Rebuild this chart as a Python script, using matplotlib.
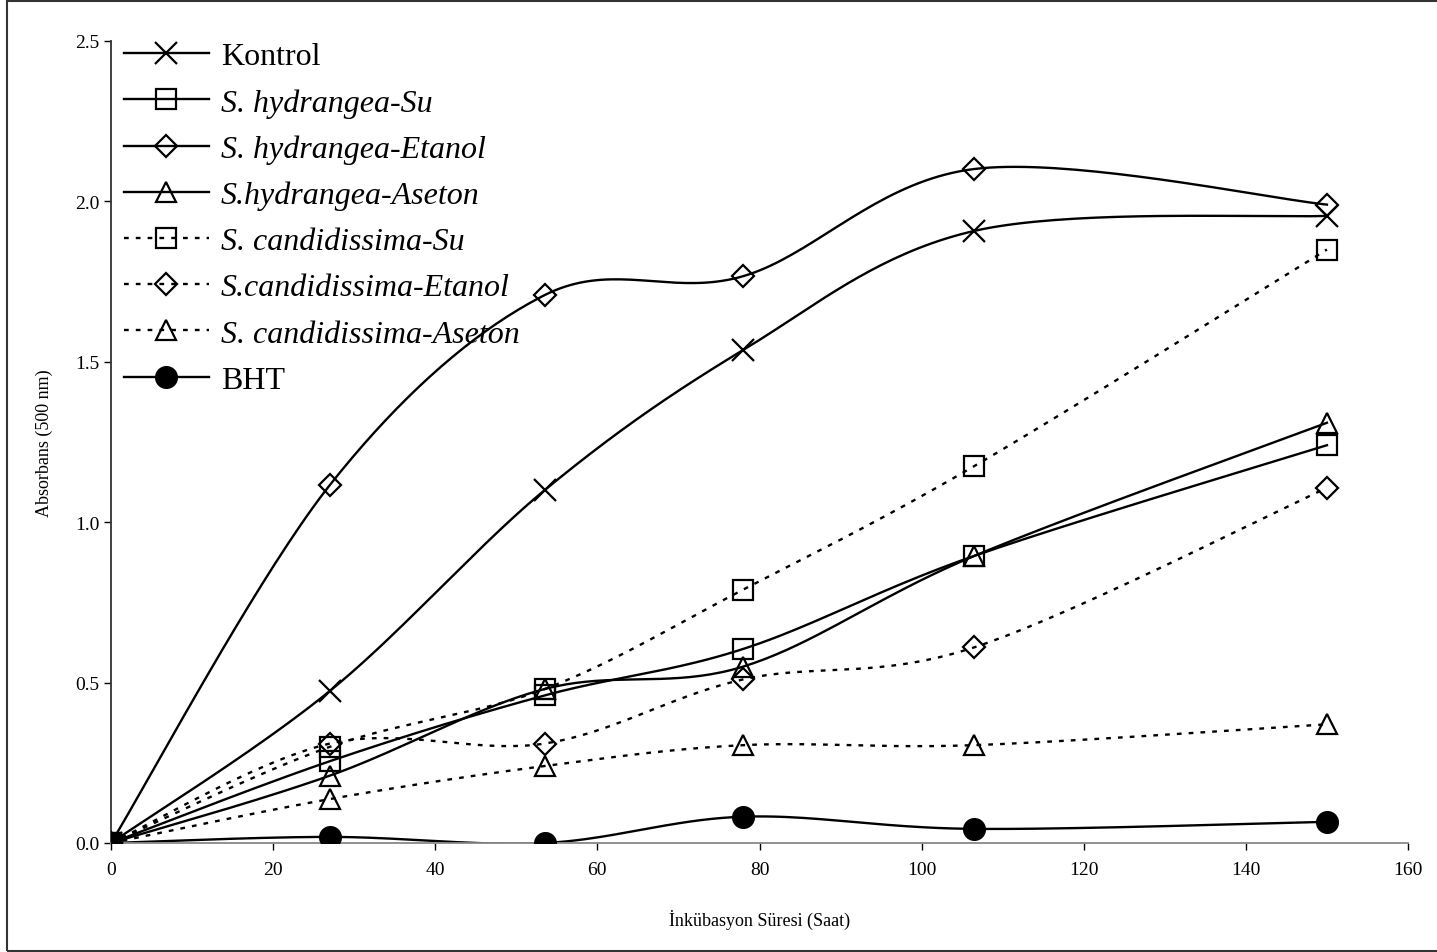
import numpy as np
import matplotlib
matplotlib.use("Agg")
import matplotlib.pyplot as plt
from matplotlib.lines import Line2D
from matplotlib.patches import Rectangle

# incubation time (hours)
saat = [0, 27, 53.5, 78, 106.5, 150]

kontrol = [0.0, 0.474, 1.100, 1.537, 1.908, 1.955]
hyd_su = [0.0, 0.255, 0.46, 0.605, 0.895, 1.24]
hyd_etanol = [0.0, 1.116, 1.708, 1.767, 2.101, 1.990]
hyd_aseton = [0.0, 0.21, 0.48, 0.55, 0.895, 1.31]
can_su = [0.0, 0.30, 0.48, 0.79, 1.175, 1.85]
can_etanol = [0.0, 0.31, 0.31, 0.51, 0.61, 1.107]
can_aseton = [0.0, 0.137, 0.24, 0.305, 0.305, 0.37]
bht = [0.0, 0.019, 0.0, 0.082, 0.044, 0.066]

labels = ["Kontrol", "S. hydrangea-Su", "S. hydrangea-Etanol", "S.hydrangea-Aseton",
          "S. candidissima-Su", "S.candidissima-Etanol", "S. candidissima-Aseton", "BHT"]
series = [kontrol, hyd_su, hyd_etanol, hyd_aseton, can_su, can_etanol, can_aseton, bht]
markers = ["x", "s", "D", "^", "s", "D", "^", "o"]
dotted = [False, False, False, False, True, True, True, False]
italic = [False, True, True, True, True, True, True, False]


def smooth(x, y, n=40):
  # excel-like smoothed line (catmull-rom bezier)
  p = np.column_stack([x, y]).astype(float)
  out = []
  for i in range(len(p) - 1):
    p0 = p[i - 1] if i > 0 else p[i]
    p1 = p[i]
    p2 = p[i + 1]
    p3 = p[i + 2] if i + 2 < len(p) else p[i + 1]
    c1 = p1 + (p2 - p0) / 6
    c2 = p2 - (p3 - p1) / 6
    t = np.linspace(0, 1, n)[:, None]
    seg = ((1 - t) ** 3) * p1 + 3 * ((1 - t) ** 2) * t * c1 + 3 * (1 - t) * t ** 2 * c2 + t ** 3 * p2
    out.append(seg if i == 0 else seg[1:])
  out = np.vstack(out)
  return out[:, 0], out[:, 1]


plt.rcParams['font.family'] = ['Liberation Serif', 'DejaVu Serif']

fig = plt.figure(figsize=(14.37, 9.53), dpi=100)
ax = fig.add_axes([111 / 1437, 1 - 844 / 953, (1408 - 111) / 1437, (844 - 42) / 953])

dots = (0, (2.0, 3.0))
msizes = {"x": 16, "s": 15, "D": 11.5, "^": 15, "o": 15}
lw = 1.7

handles = []
for vals, lab, mk, dt, it in zip(series, labels, markers, dotted, italic):
  ls = dots if dt else "-"
  sx, sy = smooth(saat, vals)
  ax.plot(sx, sy, color="black", lw=lw, ls=ls, zorder=2)
  face = "black" if mk == "o" else "none"
  ax.plot(saat, vals, ls="none", marker=mk, ms=msizes[mk], mfc=face, mec="black", mew=1.6, zorder=3)
  handles.append(Line2D([], [], color="black", lw=lw, ls=ls, marker=mk, ms=msizes[mk],
                        mfc=face, mec="black", mew=1.6))

ax.set_xlim(0, 160)
ax.set_ylim(0, 2.5)
ax.set_xticks(np.arange(0, 161, 20))
ax.set_yticks(np.arange(0, 2.51, 0.5))
ax.set_yticklabels([f"{v:.1f}" for v in np.arange(0, 2.51, 0.5)])
ax.tick_params(direction="out", length=5, width=1, labelsize=14, colors="black")
ax.tick_params(axis="x", pad=8)
ax.spines["top"].set_visible(False)
ax.spines["right"].set_visible(False)
ax.spines["bottom"].set_color("#888888")
ax.spines["left"].set_color("#333333")
ax.spines["bottom"].set_linewidth(1.3)
ax.spines["left"].set_linewidth(1.3)
ax.set_xlabel("İnkübasyon Süresi (Saat)", fontsize=13, labelpad=22)
ax.set_ylabel("Absorbans (500 nm)", fontsize=13, labelpad=16)

leg = fig.legend(handles, labels, loc="upper left", bbox_to_anchor=(124 / 1437, 1 - 43 / 953),
                 frameon=False, fontsize=23, handlelength=2.65, handletextpad=0.38,
                 labelspacing=0.525, borderpad=0, borderaxespad=0)
for txt, it in zip(leg.get_texts(), italic):
  if it:
    txt.set_fontstyle("italic")

# outer frame
fig.patches.append(Rectangle((7 / 1437, 1 / 953), 1.0, 1 - 3 / 953, transform=fig.transFigure,
                             fill=False, edgecolor="#333333", lw=1.5))

fig.savefig("out.png", dpi=100)
